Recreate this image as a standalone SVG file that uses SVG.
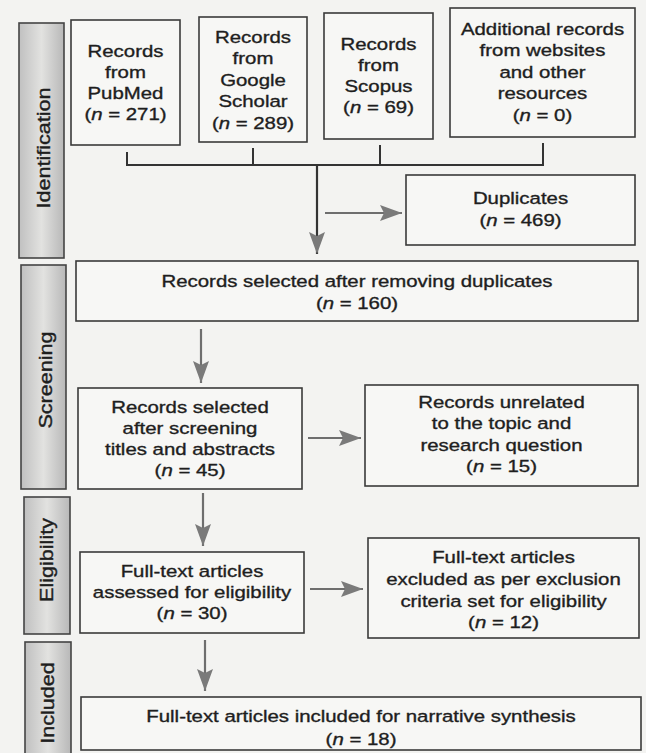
<svg xmlns="http://www.w3.org/2000/svg" width="646" height="753" viewBox="0 0 646 753">
<defs>
<linearGradient id="lg" x1="0" y1="0" x2="1" y2="0">
<stop offset="0" stop-color="#c0c0c0"/>
<stop offset="0.5" stop-color="#e2e2e0"/>
<stop offset="1" stop-color="#b8b8b8"/>
</linearGradient>
<marker id="ah" markerUnits="userSpaceOnUse" markerWidth="24" markerHeight="18" refX="22" refY="8" orient="auto">
<path d="M0,0 L22,8 L0,16 L4,8 Z" fill="#7a7a7a"/>
</marker>
</defs>
<style>
.box{fill:#f7f7f5;stroke:#3a3a3a;stroke-width:1.6}
.lab{fill:url(#lg);stroke:#444;stroke-width:1.6}
.t{font-family:"Liberation Sans",Arial,sans-serif;font-size:17px;fill:#1e1e1e;stroke:#1e1e1e;stroke-width:0.35;text-anchor:middle}
.lt{font-family:"Liberation Sans",Arial,sans-serif;font-size:18px;fill:#1e1e1e;stroke:#1e1e1e;stroke-width:0.4;text-anchor:middle}
.i{font-style:italic}
.br{fill:none;stroke:#333;stroke-width:2}
.ar{fill:none;stroke:#6e6e6e;stroke-width:2.2;marker-end:url(#ah)}
</style>
<rect width="646" height="753" fill="#f3f3f1"/>

<g id="label-identification">
<rect class="lab" x="19" y="23" width="45" height="235"/>
<text class="lt" transform="translate(50 148) rotate(-90) scale(1.2 1)">Identification</text>
</g>
<g id="label-screening">
<rect class="lab" x="21" y="265" width="45" height="224"/>
<text class="lt" transform="translate(52 380) rotate(-90) scale(1.2 1)">Screening</text>
</g>
<g id="label-eligibility">
<rect class="lab" x="24" y="497" width="46" height="137"/>
<text class="lt" transform="translate(53 560) rotate(-90) scale(1.2 1)">Eligibility</text>
</g>
<g id="label-included">
<rect class="lab" x="25" y="642" width="46" height="120"/>
<text class="lt" transform="translate(54 703) rotate(-90) scale(1.2 1)">Included</text>
</g>

<g id="pubmed">
<rect class="box" x="71" y="20" width="109" height="125"/>
<text class="t" transform="translate(125.5 0) scale(1.2 1)"><tspan x="0" y="57">Records</tspan><tspan x="0" y="78">from</tspan><tspan x="0" y="99">PubMed</tspan><tspan x="0" y="120">(<tspan class="i">n</tspan> = 271)</tspan></text>
</g>
<g id="google-scholar">
<rect class="box" x="199" y="17" width="108" height="125"/>
<text class="t" transform="translate(253 0) scale(1.2 1)"><tspan x="0" y="43">Records</tspan><tspan x="0" y="64.5">from</tspan><tspan x="0" y="86">Google</tspan><tspan x="0" y="107.5">Scholar</tspan><tspan x="0" y="129">(<tspan class="i">n</tspan> = 289)</tspan></text>
</g>
<g id="scopus">
<rect class="box" x="324" y="13" width="109" height="126"/>
<text class="t" transform="translate(378.5 0) scale(1.2 1)"><tspan x="0" y="50">Records</tspan><tspan x="0" y="71">from</tspan><tspan x="0" y="92">Scopus</tspan><tspan x="0" y="113">(<tspan class="i">n</tspan> = 69)</tspan></text>
</g>
<g id="additional">
<rect class="box" x="450" y="8" width="185" height="129"/>
<text class="t" transform="translate(542.5 0) scale(1.2 1)"><tspan x="0" y="35">Additional records</tspan><tspan x="0" y="56.5">from websites</tspan><tspan x="0" y="78">and other</tspan><tspan x="0" y="99.5">resources</tspan><tspan x="0" y="121">(<tspan class="i">n</tspan> = 0)</tspan></text>
</g>
<g id="duplicates">
<rect class="box" x="406" y="175" width="229" height="70"/>
<text class="t" transform="translate(520.5 0) scale(1.2 1)"><tspan x="0" y="204">Duplicates</tspan><tspan x="0" y="226">(<tspan class="i">n</tspan> = 469)</tspan></text>
</g>
<g id="after-duplicates">
<rect class="box" x="76" y="261" width="562" height="60"/>
<text class="t" transform="translate(357 0) scale(1.2 1)"><tspan x="0" y="287">Records selected after removing duplicates</tspan><tspan x="0" y="309">(<tspan class="i">n</tspan> = 160)</tspan></text>
</g>
<g id="after-screening">
<rect class="box" x="78" y="388" width="224" height="101"/>
<text class="t" transform="translate(190 0) scale(1.2 1)"><tspan x="0" y="413">Records selected</tspan><tspan x="0" y="434">after screening</tspan><tspan x="0" y="455">titles and abstracts</tspan><tspan x="0" y="476">(<tspan class="i">n</tspan> = 45)</tspan></text>
</g>
<g id="unrelated">
<rect class="box" x="365" y="385" width="273" height="101"/>
<text class="t" transform="translate(501.5 0) scale(1.2 1)"><tspan x="0" y="408">Records unrelated</tspan><tspan x="0" y="429.5">to the topic and</tspan><tspan x="0" y="451">research question</tspan><tspan x="0" y="472">(<tspan class="i">n</tspan> = 15)</tspan></text>
</g>
<g id="assessed">
<rect class="box" x="80" y="552" width="224" height="81"/>
<text class="t" transform="translate(192 0) scale(1.2 1)"><tspan x="0" y="577">Full-text articles</tspan><tspan x="0" y="598">assessed for eligibility</tspan><tspan x="0" y="619">(<tspan class="i">n</tspan> = 30)</tspan></text>
</g>
<g id="excluded">
<rect class="box" x="368" y="538" width="271" height="100"/>
<text class="t" transform="translate(503.5 0) scale(1.2 1)"><tspan x="0" y="563">Full-text articles</tspan><tspan x="0" y="585">excluded as per exclusion</tspan><tspan x="0" y="607">criteria set for eligibility</tspan><tspan x="0" y="628">(<tspan class="i">n</tspan> = 12)</tspan></text>
</g>
<g id="included">
<rect class="box" x="81" y="697" width="560" height="53"/>
<text class="t" transform="translate(361 0) scale(1.2 1)"><tspan x="0" y="722">Full-text articles included for narrative synthesis</tspan><tspan x="0" y="745">(<tspan class="i">n</tspan> = 18)</tspan></text>
</g>

<g id="connectors">
<path class="br" d="M127,152 V165 H543 V143 M253,148 V165 M380,145 V165"/>
<line x1="317" y1="165" x2="317" y2="254" stroke="#333" stroke-width="2.2" marker-end="url(#ah)"/>
<line class="ar" x1="325" y1="213" x2="402" y2="213"/>
<line class="ar" x1="201" y1="329" x2="201" y2="383"/>
<line class="ar" x1="308" y1="438" x2="361" y2="438"/>
<line class="ar" x1="203" y1="493" x2="203" y2="546"/>
<line class="ar" x1="310" y1="589" x2="363" y2="589"/>
<line class="ar" x1="205" y1="640" x2="205" y2="691"/>
</g>
</svg>
